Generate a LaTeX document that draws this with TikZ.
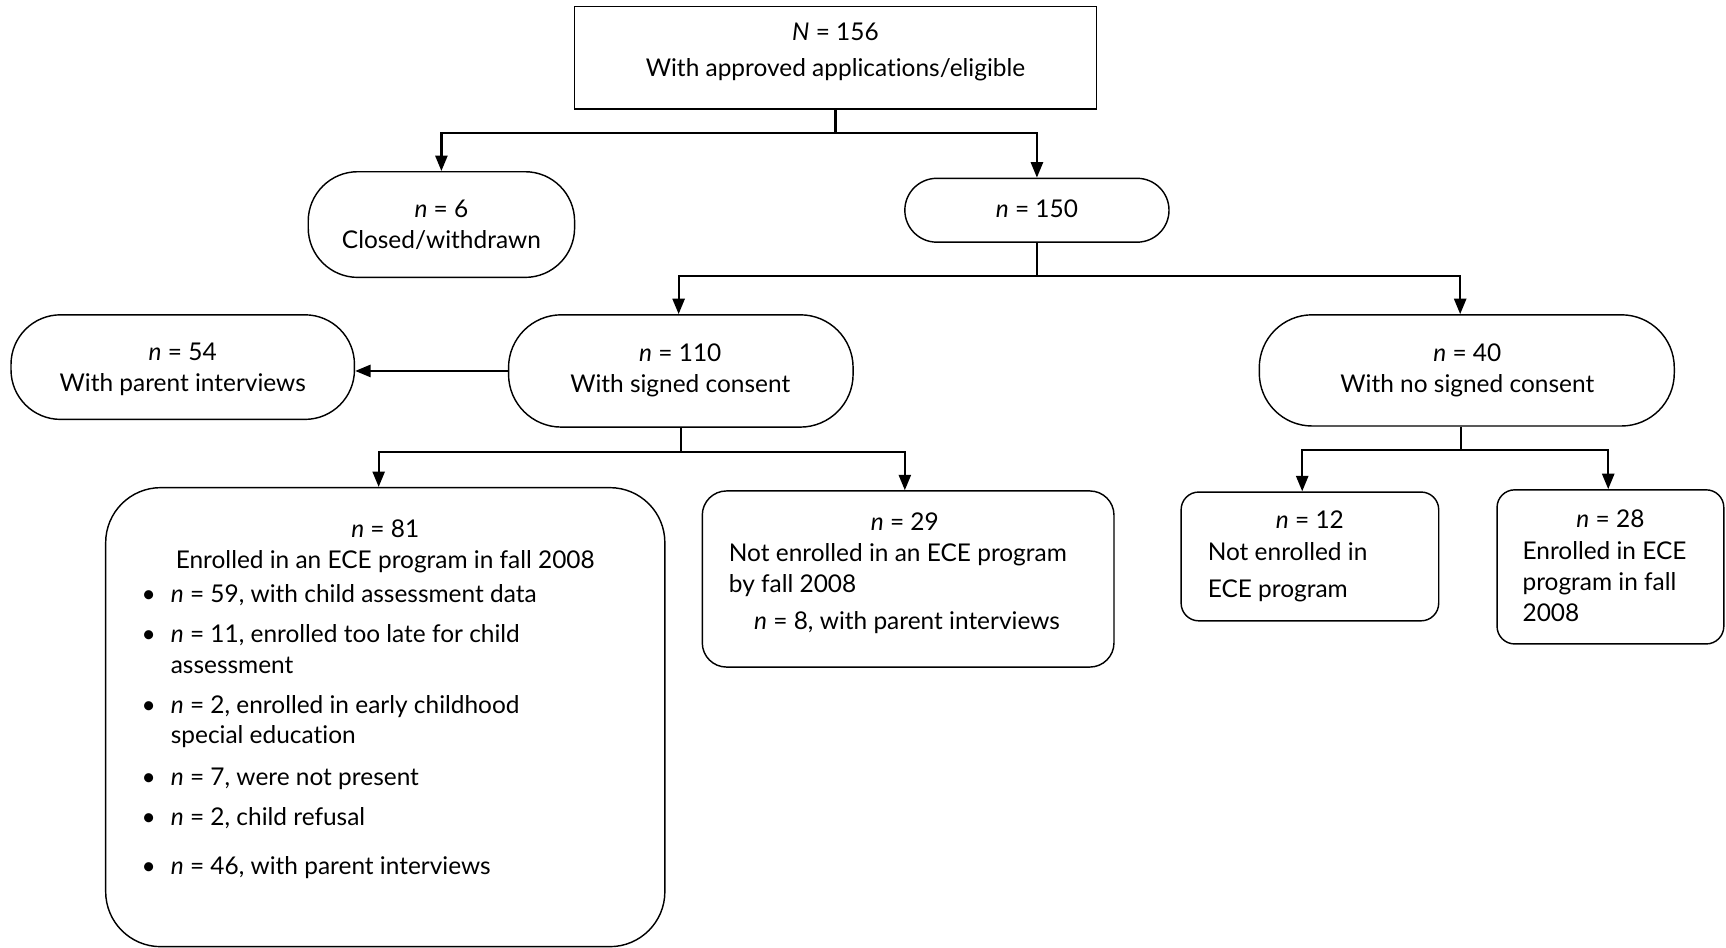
\documentclass[tikz,border=0pt]{standalone}
\usepackage{fontspec}
\setmainfont{Lato}[Ligatures=CommonOff]
\usetikzlibrary{arrows.meta}
\begin{document}
\begin{tikzpicture}[x=1pt,y=-1pt,
  box/.style={draw=black,line width=1.3pt,inner sep=0pt,minimum width=#1},
  txt/.style={anchor=base,inner sep=0pt,font=\fontsize{22.2}{28}\selectfont},
  ltxt/.style={anchor=base west,inner sep=0pt,font=\fontsize{22.2}{28}\selectfont},
  conn/.style={line width=2pt},
  arr/.style={line width=2pt,-{Triangle[length=14pt,width=11pt]}}]
\useasboundingbox (0,0) rectangle (1568,861);
% boxes
\node[box=474pt,minimum height=93pt] (top) at (759,52.5) {};
\node[box=242pt,minimum height=96pt,rounded corners=45pt] (closed) at (401,204) {};
\node[box=240pt,minimum height=58pt,rounded corners=29pt] (n150) at (942,191) {};
\node[box=312pt,minimum height=95pt,rounded corners=45pt] (n54) at (166,333.5) {};
\node[box=313pt,minimum height=102pt,rounded corners=48pt] (n110) at (618.5,337) {};
\node[box=377pt,minimum height=101pt,rounded corners=48pt] (n40) at (1332.5,336.5) {};
\node[box=508pt,minimum height=417pt,rounded corners=50pt] (n81) at (350,651.5) {};
\node[box=374pt,minimum height=160pt,rounded corners=22pt] (n29) at (825,526) {};
\node[box=234pt,minimum height=117pt,rounded corners=16pt] (n12) at (1190,505.5) {};
\node[box=206pt,minimum height=140pt,rounded corners=16pt] (n28) at (1463,515) {};
% texts
\node[txt] (t1a) at (759,36.5) {\textit{N} = 156};
\node[txt] (t1b) at (759,69.5) {With approved applications/eligible};
\node[txt] (t2a) at (401,197.5) {\textit{n} = 6};
\node[txt] (t2b) at (401,225.5) {Closed/withdrawn};
\node[txt] (t3a) at (942,197.5) {\textit{n} = 150};
\node[txt] (t4a) at (166,327.5) {\textit{n} = 54};
\node[txt] (t4b) at (166,355.5) {With parent interviews};
\node[txt] (t5a) at (618,328.5) {\textit{n} = 110};
\node[txt] (t5b) at (618,356.5) {With signed consent};
\node[txt] (t6a) at (1333,328.5) {\textit{n} = 40};
\node[txt] (t6b) at (1333,356.5) {With no signed consent};
\node[txt] (t7a) at (350,488.5) {\textit{n} = 81};
\node[txt] (t7b) at (350,516.5) {Enrolled in an ECE program in fall 2008};
\foreach \yy/\tt [count=\i] in {547.5/{\textit{n} = 59, with child assessment data},
  583.5/{\textit{n} = 11, enrolled too late for child},
  648.5/{\textit{n} = 2, enrolled in early childhood},
  713.5/{\textit{n} = 7, were not present},
  749.5/{\textit{n} = 2, child refusal},
  794.5/{\textit{n} = 46, with parent interviews}}{
  \node[txt] (bul\i) at (135,\yy) {•};
  \node[ltxt] (item\i) at (155,\yy) {\tt};
}
\node[ltxt] (item2b) at (155,611.5) {assessment};
\node[ltxt] (item3b) at (155,675.5) {special education};
\node[txt] (t8a) at (822,481.5) {\textit{n} = 29};
\node[ltxt] (t8b) at (662,510.5) {Not enrolled in an ECE program};
\node[ltxt] (t8c) at (662,538.5) {by fall 2008};
\node[txt] (t8d) at (824,571.5) {\textit{n} = 8, with parent interviews};
\node[txt] (t9a) at (1190,480.5) {\textit{n} = 12};
\node[ltxt] (t9b) at (1097,509.5) {Not enrolled in};
\node[ltxt] (t9c) at (1097,542.5) {ECE program};
\node[txt] (t10a) at (1463,479.5) {\textit{n} = 28};
\node[ltxt] (t10b) at (1383,508.5) {Enrolled in ECE};
\node[ltxt] (t10c) at (1383,536.5) {program in fall};
\node[ltxt] (t10d) at (1383,564.5) {2008};
% connectors
\draw[conn] (top.south) -- ++(0,21) coordinate (j1);
\draw[arr] (j1) -| (closed.north);
\draw[arr] (j1) -| (n150.north);
\draw[conn] (n150.south) -- ++(0,30) coordinate (j2);
\draw[arr] (j2) -| ([xshift=-2pt]n110.north);
\draw[arr] (j2) -| ([xshift=-6pt]n40.north);
\draw[arr] (n110.west) -- (n110.west -| n54.east);
\draw[conn] (n110.south) -- ++(0,22) coordinate (j3);
\draw[arr] (j3) -| ([xshift=-6pt]n81.north);
\draw[arr] (j3) -| ([xshift=-3pt]n29.north);
\draw[conn] ([xshift=-5pt]n40.south) -- ++(0,21) coordinate (j4);
\draw[arr] (j4) -| ([xshift=-7pt]n12.north);
\draw[arr] (j4) -| ([xshift=-2pt]n28.north);
\end{tikzpicture}
\end{document}
